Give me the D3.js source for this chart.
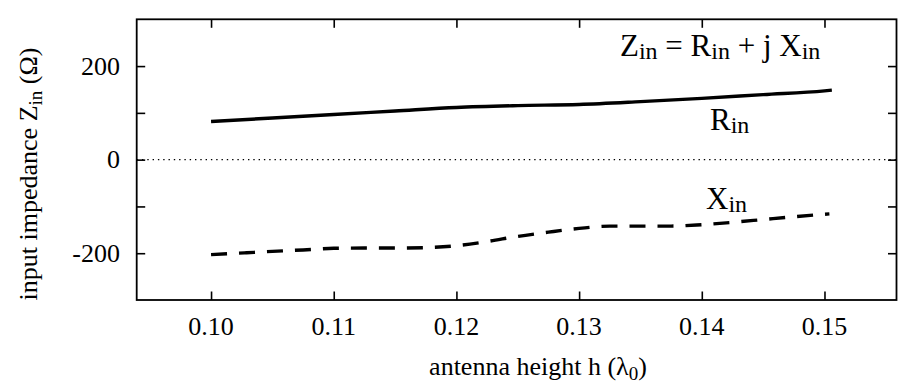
<!DOCTYPE html>
<html>
<head>
<meta charset="utf-8">
<script src="https://cdn.jsdelivr.net/npm/d3@7"></script>
<style>
  html, body { margin: 0; padding: 0; background: #fff; }
  svg { display: block; }
  text { font-family: "Liberation Serif", "Times New Roman", serif; fill: #000; }
</style>
</head>
<body>
<svg id="chart" width="898" height="383"></svg>
<script>
// ---- data ----
const xTicks = [0.10, 0.11, 0.12, 0.13, 0.14, 0.15];
const xTickLabels = ["0.10", "0.11", "0.12", "0.13", "0.14", "0.15"];
const yTicks = [-200, -100, 0, 100, 200];
const yTickLabels = ["-200", "", "0", "", "200"];

const rinH = [0.100, 0.105, 0.110, 0.115, 0.120, 0.125, 0.130, 0.135, 0.140, 0.145, 0.150, 0.1506];
const rinV = [81.5, 89, 96.5, 104, 111.5, 115.5, 118, 124, 131, 139, 147, 148.5];

const xinH = [0.100, 0.1029, 0.105, 0.1075, 0.110, 0.1125, 0.115, 0.1175, 0.120, 0.1225, 0.125, 0.1275, 0.130, 0.1325, 0.135, 0.1375, 0.140, 0.1425, 0.145, 0.1475, 0.1504];
const xinV = [-203, -199, -196, -193, -189.5, -189, -189, -188, -184, -175, -164, -155, -147, -142, -142, -142, -139, -134, -128, -122, -116];

// ---- layout ----
const svg = d3.select("#chart");
const L = 136.7, R = 896.5, T = 19.3, B = 300;
const x = d3.scaleLinear().domain([0.09394, 0.15587]).range([L, R]);
const y = d3.scaleLinear().domain([-300, 300]).range([B, T]);
const tickLen = 8.5;

// zero dotted line
svg.append("line")
  .attr("x1", L).attr("x2", R)
  .attr("y1", y(0)).attr("y2", y(0))
  .attr("stroke", "#000").attr("stroke-width", 1.4)
  .attr("stroke-dasharray", "1.4,3.9");

// axes (ticks inside, mirrored)
const gB = svg.append("g").attr("transform", `translate(0,${B})`)
  .call(d3.axisBottom(x).tickValues(xTicks).tickSize(-tickLen).tickFormat(""));
const gT = svg.append("g").attr("transform", `translate(0,${T})`)
  .call(d3.axisTop(x).tickValues(xTicks).tickSize(-tickLen).tickFormat(""));
const gL = svg.append("g").attr("transform", `translate(${L},0)`)
  .call(d3.axisLeft(y).tickValues(yTicks).tickSize(-tickLen).tickFormat(""));
const gR = svg.append("g").attr("transform", `translate(${R},0)`)
  .call(d3.axisRight(y).tickValues(yTicks).tickSize(-tickLen).tickFormat(""));
[gB, gT, gL, gR].forEach(g => {
  g.select(".domain").remove();
  g.selectAll(".tick line").attr("stroke", "#000").attr("stroke-width", 1.6);
});

// frame
svg.append("rect")
  .attr("x", L).attr("y", T).attr("width", R - L).attr("height", B - T)
  .attr("fill", "none").attr("stroke", "#000").attr("stroke-width", 1.8);

// tick labels
svg.append("g").selectAll("text").data(xTicks).join("text")
  .attr("x", d => x(d)).attr("y", 335)
  .attr("text-anchor", "middle").attr("font-size", 26)
  .text((d, i) => xTickLabels[i]);
svg.append("g").selectAll("text").data(yTicks).join("text")
  .attr("x", 120).attr("y", d => y(d) + 8.5)
  .attr("text-anchor", "end").attr("font-size", 26)
  .text((d, i) => yTickLabels[i]);

// axis titles
const xt = svg.append("text").attr("x", 538).attr("y", 375)
  .attr("text-anchor", "middle").attr("font-size", 26);
xt.append("tspan").text("antenna height h (λ");
xt.append("tspan").attr("font-size", 19).attr("dy", 5).text("0");
xt.append("tspan").attr("dy", -5).text(")");

const yt = svg.append("text")
  .attr("transform", "translate(37,174) rotate(-90)")
  .attr("text-anchor", "middle").attr("font-size", 26);
yt.append("tspan").text("input impedance Z");
yt.append("tspan").attr("font-size", 19).attr("dy", 5).text("in");
yt.append("tspan").attr("dy", -5).text(" (Ω)");

// curves
const line = d3.line().curve(d3.curveMonotoneX);
svg.append("path")
  .attr("d", line(rinH.map((h, i) => [x(h), y(rinV[i])])))
  .attr("fill", "none").attr("stroke", "#000").attr("stroke-width", 3.4);
svg.append("path")
  .attr("d", line(xinH.map((h, i) => [x(h), y(xinV[i])])))
  .attr("fill", "none").attr("stroke", "#000").attr("stroke-width", 3.4)
  .attr("stroke-dasharray", "16,12");

// annotations
function subText(xp, yp, parts) {
  const t = svg.append("text").attr("x", xp).attr("y", yp).attr("font-size", 31);
  parts.forEach(([s, sub]) => {
    if (sub) t.append("tspan").attr("font-size", 24).attr("dy", 3).text(s);
    else t.append("tspan").attr("dy", t.selectAll("tspan").size() ? -3 : 0).text(s);
  });
}
subText(620, 59, [["Z", false], ["in", true], [" = R", false], ["in", true], [" + j X", false], ["in", true]]);
subText(710, 132.5, [["R", false], ["in", true]]);
subText(706, 211.5, [["X", false], ["in", true]]);
</script>
</body>
</html>
